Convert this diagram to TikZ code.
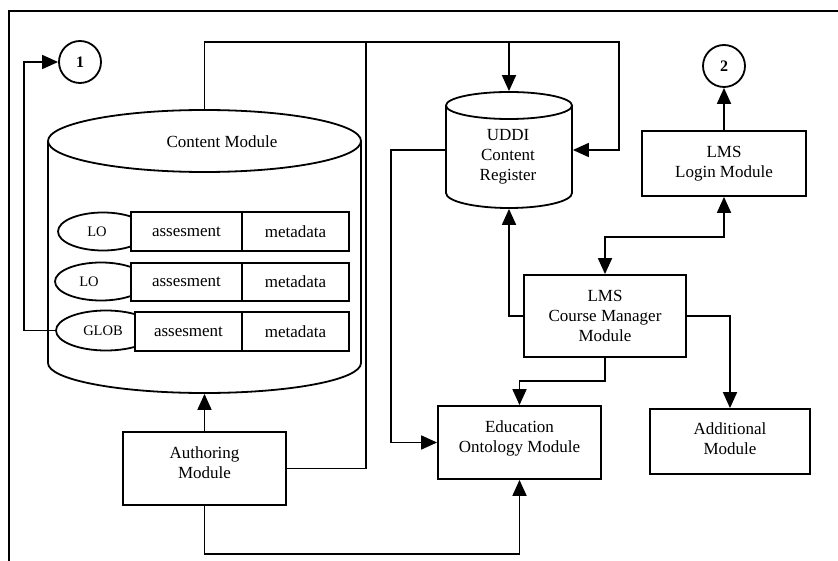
\documentclass[tikz,border=0pt]{standalone}
\usepackage{fontspec}
\setmainfont{Liberation Serif}
\usetikzlibrary{arrows.meta,shapes.geometric}
\begin{document}
\begin{tikzpicture}[x=1pt,y=-1pt,line width=1.8pt,
  box/.style={draw, rectangle, inner sep=2pt, align=center, font=\fontsize{17}{20}\selectfont},
  cell/.style={draw, fill=white, rectangle, inner sep=0pt, font=\fontsize{17}{20}\selectfont},
  loel/.style={draw, ellipse, inner sep=0pt},
  small/.style={font=\fontsize{14.5}{17}\selectfont, inner sep=0pt},
  num/.style={draw, circle, minimum size=42pt, inner sep=0pt, font=\fontsize{16}{18}\selectfont\bfseries},
  lbl/.style={inner sep=0pt, align=center, font=\fontsize{17}{20}\selectfont},
  anchorbox/.style={inner sep=0pt, draw=none},
  arr/.style={-{Triangle[length=16pt,width=14pt]}},
  dbl/.style={{Triangle[length=16pt,width=14pt]}-{Triangle[length=16pt,width=14pt]}}
]
\useasboundingbox (0,0) rectangle (838,561);
% frame
\draw (9,561) -- (9,11) -- (838,11);

% Content Module cylinder
\node[anchorbox, minimum width=313pt, minimum height=283pt] (content) at (204.5,251.5) {};
\draw (48,141) -- (48,363) .. controls (48,379.6) and (118.1,393) .. (204.5,393)
      .. controls (290.9,393) and (361,379.6) .. (361,363) -- (361,141);
\draw (204.5,141) ellipse [x radius=156.5, y radius=31];
\node[lbl] (contentlbl) at (222,142) {Content Module};

% rows
\node[loel, minimum width=90pt, minimum height=38pt] (lo1) at (103,231.5) {};
\node[small] (lo1t) at (97,231.5) {LO};
\node[cell, minimum width=111pt, minimum height=39pt] (as1) at (186.5,231.5) {assesment};
\node[cell, minimum width=107pt, minimum height=39pt] (md1) at (295.5,231.5) {metadata};

\node[loel, minimum width=92pt, minimum height=38pt] (lo2) at (101,281.5) {};
\node[small] (lo2t) at (89,281.5) {LO};
\node[cell, minimum width=111pt, minimum height=38pt] (as2) at (186.5,282) {assesment};
\node[cell, minimum width=107pt, minimum height=38pt] (md2) at (295.5,282) {metadata};

\node[loel, minimum width=100pt, minimum height=40pt] (glob) at (106,330.5) {};
\node[small] (globt) at (103,330.5) {GLOB};
\node[cell, minimum width=107pt, minimum height=39pt] (as3) at (188.5,331.5) {assesment};
\node[cell, minimum width=107pt, minimum height=39pt] (md3) at (295.5,331.5) {metadata};

% UDDI cylinder
\node[anchorbox, minimum width=126pt, minimum height=116pt] (uddi) at (509,150) {};
\draw (446,105.5) -- (446,193) .. controls (446,201.3) and (474.2,208) .. (509,208)
      .. controls (543.8,208) and (572,201.3) .. (572,193) -- (572,105.5);
\draw (509,105.5) ellipse [x radius=63, y radius=13.5];
\node[lbl] (uddilbl) at (508,157) {UDDI\\Content\\Register};

% circles
\node[num] (c1) at (80,62) {1};
\node[num] (c2) at (724,66) {2};

% boxes
\node[box, minimum width=163pt, minimum height=73pt] (auth) at (204.5,468.5) {};
\node[lbl] (authlbl) at (204.5,462.5) {Authoring\\Module};
\node[box, minimum width=163pt, minimum height=73pt] (edu) at (519.5,442.5) {};
\node[lbl] (edulbl) at (519.5,438.5) {Education\\Ontology Module};
\node[box, minimum width=162pt, minimum height=82pt] (cmm) at (605,316) {LMS\\Course Manager\\Module};
\node[box, minimum width=164pt, minimum height=65pt] (login) at (724,163.5) {LMS\\Login Module};
\node[box, minimum width=160pt, minimum height=65pt] (add) at (730,441.5) {};
\node[lbl] (addlbl) at (730,438.5) {Additional\\Module};

% connectors
\coordinate (tl) at (204.5,42);
\coordinate (tm) at (366,42);
\coordinate (tu) at (509,42);
\coordinate (tr) at (619,42);
\coordinate (ul) at (391,150);
\draw[arr] (content.north) -- (tl) -- (tr) |- (uddi.east);
\draw[arr] (tu) -- (uddi.north);
\draw (tm) |- (auth.east);
\draw[arr] (glob.west) -- ++(-31,0) |- (c1.west);
\draw[arr] (uddi.west) -- (ul) |- (edu.west);
\draw[arr] (cmm.west) -| (uddi.south);
\draw[dbl] (login.south) -- ++(0,40) -| (cmm.north);
\draw[arr] (login.north) -- (c2.south);
\draw[arr] (cmm.east) -| (add.north);
\draw[arr] (cmm.south) -- ++(0,23) -| (edu.north);
\draw[arr] (auth.south) -- ++(0,48) -| (edu.south);
\draw[arr] (auth.north) -- (content.south);
\end{tikzpicture}
\end{document}
